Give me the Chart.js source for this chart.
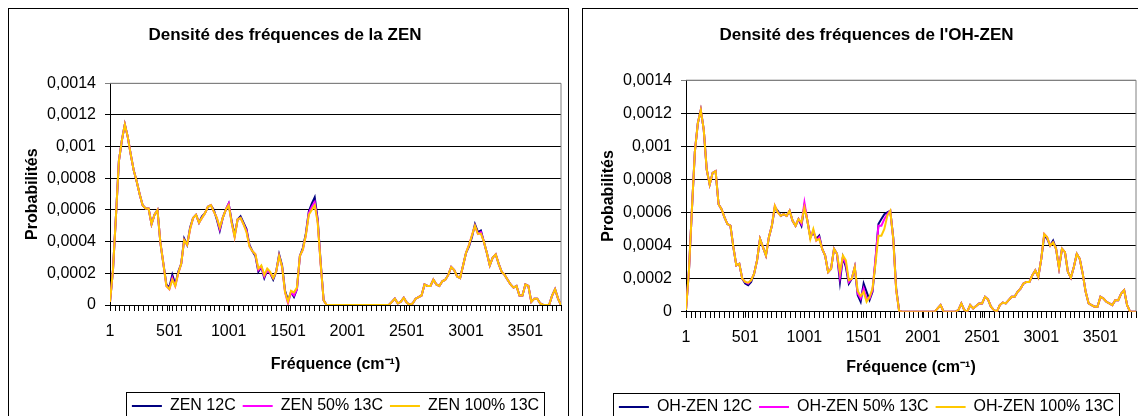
<!DOCTYPE html>
<html>
<head>
<meta charset="utf-8">
<script src="https://cdn.jsdelivr.net/npm/chart.js@4.4.1/dist/chart.umd.min.js"></script>
<style>
  body { margin: 0; background: #fff; overflow: hidden; width: 1138px; height: 416px; position: relative; }
  .frame { position: absolute; top: 8px; border: 1px solid #000; background: #fff; }
  #f1 { left: 8px; width: 559px; height: 430px; }
  #f2 { left: 582px; width: 562px; height: 430px; }
  canvas { display: block; }
</style>
</head>
<body>
<div class="frame" id="f1"><canvas id="zen" width="559" height="415"></canvas></div>
<div class="frame" id="f2"><canvas id="ohzen" width="562" height="416"></canvas></div>
<script>
// spectra sampled every 25 cm-1, starting at 1
const FREQ_STEP = 25;
const X_LABELS = [1, 501, 1001, 1501, 2001, 2501, 3001, 3501];

const zen12 = [
  0.00002,0.00022,0.00056,0.00091,0.00104,0.00114,0.00106,0.00095,0.00085,0.00078,
  0.00070,0.00063,0.00061,0.00061,0.00051,0.00057,0.00060,0.00039,0.00026,0.00013,
  0.00011,0.00019,0.00013,0.00021,0.00026,0.00042,0.00038,0.00049,0.00055,0.00057,
  0.00052,0.00056,0.00058,0.00062,0.00063,0.00060,0.00054,0.00047,0.00055,0.00060,
  0.00064,0.00053,0.00044,0.00054,0.00056,0.00052,0.00048,0.00038,0.00034,0.00031,
  0.00021,0.00024,0.00017,0.00022,0.00020,0.00016,0.00021,0.00032,0.00025,0.00009,
  0.00003,0.00008,0.00005,0.00010,0.00031,0.00036,0.00045,0.00059,0.00064,0.00068,
  0.00054,0.00027,0.00003,0,0,0,0,0,0,0,
  0,0,0,0,0,0,0,0,0,0,
  0,0,0,0,0,0.00002,0.00004,0.00001,0.00002,0.000045,
  0.000015,0,0.00001,0.00004,0.00005,0.00006,0.00013,0.00012,0.00012,0.00016,
  0.00013,0.00012,0.00015,0.00016,0.00019,0.00024,0.00022,0.00018,0.00017,0.00025,
  0.00033,0.00037,0.00043,0.00051,0.00046,0.00047,0.00040,0.00033,0.00025,0.00030,
  0.00032,0.00026,0.00021,0.00019,0.00016,0.00013,0.00011,0.00012,0.00006,0.00006,
  0.00013,0.00012,0.00002,0.00004,0.00004,0.00001,0,0,0,0.00006,
  0.00010,0.00004,0
];
const zen50 = [
  0.00002,0.00022,0.00056,0.00091,0.00104,0.00114,0.00106,0.00095,0.00085,0.00078,
  0.00070,0.00063,0.00061,0.00061,0.00051,0.00057,0.00060,0.00039,0.00026,0.00012,
  0.00010,0.00017,0.00012,0.00020,0.00026,0.00041,0.00038,0.00048,0.00055,0.00057,
  0.00052,0.00055,0.00058,0.00062,0.00063,0.00059,0.00055,0.00048,0.00055,0.00060,
  0.00064,0.00052,0.00043,0.00054,0.00055,0.00051,0.00047,0.00037,0.00034,0.00032,
  0.00022,0.00024,0.00018,0.00022,0.00020,0.00017,0.00021,0.00031,0.00024,0.00008,
  0.00001,0.00008,0.00006,0.00010,0.00031,0.00035,0.00044,0.00058,0.00062,0.00065,
  0.00053,0.00026,0.00003,0,0,0,0,0,0,0,
  0,0,0,0,0,0,0,0,0,0,
  0,0,0,0,0,0.00002,0.00004,0.00001,0.00002,0.000045,
  0.000015,0,0.00001,0.00004,0.00005,0.00006,0.00013,0.00012,0.00012,0.00016,
  0.00013,0.00012,0.00015,0.00016,0.00019,0.00024,0.00022,0.00018,0.00017,0.00025,
  0.00033,0.00038,0.00044,0.00050,0.00045,0.00046,0.00040,0.00033,0.00025,0.00030,
  0.00032,0.00026,0.00021,0.00019,0.00016,0.00013,0.00011,0.00012,0.00006,0.00006,
  0.00013,0.00012,0.00002,0.00004,0.00004,0.00001,0,0,0,0.00006,
  0.00010,0.00004,0
];
const zen100 = [
  0.00002,0.00022,0.00056,0.00091,0.00104,0.00114,0.00106,0.00095,0.00085,0.00078,
  0.00070,0.00063,0.00061,0.00061,0.00051,0.00057,0.00060,0.00039,0.00026,0.00012,
  0.00010,0.00016,0.00012,0.00020,0.00026,0.00041,0.00038,0.00048,0.00055,0.00057,
  0.00052,0.00055,0.00058,0.00062,0.00063,0.00059,0.00055,0.00049,0.00055,0.00060,
  0.00063,0.00052,0.00043,0.00054,0.00055,0.00051,0.00046,0.00037,0.00034,0.00032,
  0.00023,0.00025,0.00019,0.00023,0.00021,0.00017,0.00021,0.00031,0.00024,0.00008,
  0.00002,0.00009,0.00008,0.00011,0.00031,0.00035,0.00044,0.00057,0.00060,0.00063,
  0.00052,0.00026,0.00003,0,0,0,0,0,0,0,
  0,0,0,0,0,0,0,0,0,0,
  0,0,0,0,0,0.00002,0.00004,0.00001,0.00002,0.000045,
  0.000015,0,0.00001,0.00004,0.00005,0.00006,0.00013,0.00012,0.00012,0.00016,
  0.00013,0.00012,0.00015,0.00016,0.00019,0.00024,0.00022,0.00018,0.00017,0.00025,
  0.00033,0.00038,0.00044,0.00050,0.00045,0.00045,0.00040,0.00033,0.00025,0.00030,
  0.00032,0.00026,0.00021,0.00019,0.00016,0.00013,0.00011,0.00012,0.00006,0.00006,
  0.00013,0.00012,0.00002,0.00004,0.00004,0.00001,0,0,0,0.00006,
  0.00010,0.00004,0
];

const ohzen12 = [
  0.00001,0.00025,0.00062,0.00097,0.00114,0.00122,0.00110,0.00086,0.00077,0.00084,
  0.00085,0.00065,0.00062,0.00057,0.00053,0.00052,0.00039,0.00028,0.00029,0.00020,
  0.00017,0.00016,0.00018,0.00023,0.00031,0.00044,0.00039,0.00034,0.00045,0.00052,
  0.00063,0.00061,0.00058,0.00059,0.00058,0.00061,0.00055,0.00052,0.00056,0.00052,
  0.00064,0.00055,0.00045,0.00048,0.00044,0.00046,0.00038,0.00034,0.00024,0.00026,
  0.00038,0.00035,0.00018,0.00033,0.00027,0.00017,0.00020,0.00027,0.00010,0.00006,
  0.00017,0.00012,0.00007,0.00012,0.00031,0.00053,0.00056,0.00059,0.00060,0.00061,
  0.00045,0.00014,0.000005,0,0,0,0,0,0,0,
  0,0,0,0,0,0.00002,0.00004,0,0,0,
  0,0,0.00001,0.00005,0.00001,0,0.00004,0.00002,0.000035,0.00005,
  0.00005,0.00009,0.000075,0.00003,0.00001,0,0.00004,0.000055,0.00005,0.00007,
  0.00009,0.00009,0.00012,0.00014,0.00017,0.00018,0.00018,0.00022,0.00025,0.00021,
  0.00032,0.00046,0.00044,0.00040,0.00043,0.00038,0.000265,0.00038,0.00036,0.00024,
  0.000205,0.00027,0.00035,0.00032,0.00023,0.00012,0.00005,0.00004,0.00003,0.00003,
  0.00009,0.00008,0.00006,0.00005,0.00004,0.00007,0.00007,0.00011,0.00013,0.00004,
  0,0,0
];
const ohzen50 = [
  0.00001,0.00025,0.00062,0.00097,0.00114,0.00122,0.00110,0.00086,0.00077,0.00084,
  0.00085,0.00065,0.00062,0.00057,0.00053,0.00052,0.00039,0.00028,0.00029,0.00020,
  0.00018,0.00017,0.00019,0.00023,0.00031,0.00044,0.00039,0.00034,0.00045,0.00052,
  0.00064,0.00060,0.00058,0.00059,0.00058,0.00061,0.00055,0.00052,0.00056,0.00053,
  0.00066,0.00055,0.00045,0.00049,0.00043,0.00045,0.00038,0.00034,0.00024,0.00026,
  0.00038,0.00035,0.00021,0.00033,0.00029,0.00018,0.00020,0.00027,0.00011,0.00008,
  0.00014,0.00008,0.00008,0.00013,0.00032,0.00052,0.00052,0.00056,0.00059,0.00061,
  0.00044,0.00013,0.000005,0,0,0,0,0,0,0,
  0,0,0,0,0,0.00002,0.00004,0,0,0,
  0,0,0.00001,0.00005,0.00001,0,0.00004,0.00002,0.000035,0.00005,
  0.00005,0.00009,0.000075,0.00003,0.00001,0,0.00004,0.000055,0.00005,0.00007,
  0.00009,0.00009,0.00012,0.00014,0.00017,0.00018,0.00018,0.00022,0.00025,0.00021,
  0.00032,0.00047,0.00045,0.00040,0.00042,0.00038,0.000265,0.00038,0.00036,0.00024,
  0.000205,0.00027,0.00035,0.00032,0.00023,0.00012,0.00005,0.00004,0.00003,0.00003,
  0.00009,0.00008,0.00006,0.00005,0.00004,0.00007,0.00007,0.00011,0.00013,0.00004,
  0,0,0
];
const ohzen100 = [
  0.00001,0.00025,0.00062,0.00097,0.00114,0.00122,0.00110,0.00086,0.00077,0.00084,
  0.00085,0.00065,0.00062,0.00057,0.00053,0.00052,0.00039,0.00028,0.00029,0.00020,
  0.00018,0.000175,0.00019,0.00023,0.00031,0.00044,0.00039,0.00034,0.00045,0.00052,
  0.00064,0.00060,0.00058,0.00059,0.00058,0.00061,0.00055,0.00052,0.00056,0.00054,
  0.00063,0.00055,0.00044,0.00050,0.00043,0.00044,0.00038,0.00034,0.00024,0.00026,
  0.00038,0.00035,0.00024,0.00034,0.00031,0.00019,0.00020,0.00027,0.000125,0.000095,
  0.00012,0.00006,0.00009,0.00014,0.00029,0.00046,0.00046,0.00050,0.00058,0.00061,
  0.00044,0.00013,0.000005,0,0,0,0,0,0,0,
  0,0,0,0,0,0.00002,0.00004,0,0,0,
  0,0,0.00001,0.00005,0.00001,0,0.00004,0.00002,0.000035,0.00005,
  0.00005,0.00009,0.000075,0.00003,0.00001,0,0.00004,0.000055,0.00005,0.00007,
  0.00009,0.00009,0.00012,0.00014,0.00017,0.00018,0.00018,0.00022,0.00025,0.00021,
  0.00032,0.00047,0.00045,0.00040,0.00042,0.00038,0.000265,0.00038,0.00036,0.00024,
  0.000205,0.00027,0.00035,0.00032,0.00023,0.00012,0.00005,0.00004,0.00003,0.00003,
  0.00009,0.00008,0.00006,0.00005,0.00004,0.00007,0.00007,0.00011,0.00013,0.00004,
  0,0,0
];

const freq = zen100.map((_, i) => 1 + i * FREQ_STEP);
const X_MAX = freq[freq.length - 1];

// minor tick marks every 40 categories, like the Excel axis
const xTicks = [];
for (let v = 1; v <= X_MAX; v += 40) xTicks.push(v);

Chart.defaults.font.family = "'Liberation Sans', Arial, sans-serif";
Chart.defaults.color = "#000";

const COLORS = ["#000080", "#FF00FF", "#FFC800"];

const plotFrame = {
  id: "plotFrame",
  beforeDatasetsDraw(chart) {
    const { ctx, chartArea: a } = chart;
    ctx.save();
    ctx.strokeStyle = "#808080";
    ctx.lineWidth = 1;
    ctx.beginPath();
    ctx.moveTo(a.left, a.top);
    ctx.lineTo(a.right, a.top);
    ctx.lineTo(a.right, a.bottom);
    ctx.stroke();
    ctx.restore();
  },
  afterDraw(chart) {
    // small tick marks under the category axis
    const { ctx, chartArea: a } = chart;
    const xs = chart.scales.x;
    const y0 = Math.round(a.bottom);
    ctx.save();
    ctx.fillStyle = "#000";
    xTicks.forEach(v => {
      const px = Math.round(xs.getPixelForValue(v));
      ctx.fillRect(px, y0, 1, 6);
    });
    ctx.restore();
  }
};

const legendFrame = {
  id: "legendFrame",
  afterDraw(chart) {
    const boxes = chart.legend.legendHitBoxes;
    if (!boxes || !boxes.length) return;
    const left = Math.min(...boxes.map(b => b.left)) - 6;
    const right = Math.max(...boxes.map(b => b.left + b.width)) + 5;
    const top = boxes[0].top - 6;
    const ctx = chart.ctx;
    ctx.save();
    ctx.strokeStyle = "#000";
    ctx.lineWidth = 1;
    ctx.strokeRect(Math.round(left) + 0.5, Math.round(top) + 0.5, Math.round(right - left), chart.height);
    ctx.restore();
  }
};

function yLabel(v) {
  const r = Math.round(v * 1e4) / 1e4;
  return r === 0 ? "0" : String(r).replace(".", ",");
}

function makeChart(id, title, names, series, lay) {
  const datasets = series.map((vals, i) => ({
    label: names[i],
    data: vals.map((y, k) => ({ x: freq[k], y: y })),
    borderColor: COLORS[i],
    backgroundColor: COLORS[i],
    borderWidth: 2,
    pointRadius: 0,
    tension: 0,
    fill: false,
    order: 2 - i
  }));
  return new Chart(id, {
    type: "line",
    data: { datasets: datasets },
    options: {
      responsive: false,
      animation: false,
      layout: { padding: { left: lay.padLeft, right: lay.padRight, top: 0, bottom: 0 } },
      plugins: {
        title: {
          display: true,
          text: title,
          font: { size: 17, weight: "bold" },
          padding: { top: 16, bottom: lay.titleBottom }
        },
        legend: {
          position: "bottom",
          fullSize: lay.legendFull,
          labels: {
            usePointStyle: true,
            pointStyle: "line",
            pointStyleWidth: 30,
            padding: 7,
            font: { size: 16 },
            sort: (a, b) => a.datasetIndex - b.datasetIndex
          }
        },
        tooltip: { enabled: false }
      },
      scales: {
        x: {
          type: "linear",
          min: 1,
          max: X_MAX,
          afterFit: s => { s.height = lay.xHeight; },
          afterBuildTicks: s => { s.ticks = X_LABELS.map(v => ({ value: v })); },
          ticks: {
            autoSkip: false,
            maxRotation: 0,
            padding: lay.xTickPad,
            font: { size: 16 },
            callback: v => String(v)
          },
          grid: { drawOnChartArea: false, drawTicks: true, tickLength: 6, color: "#000" },
          border: { color: "#000" },
          title: {
            display: true,
            text: "Fréquence (cm⁻¹)",
            font: { size: 16, weight: "bold" },
            padding: { top: 0, bottom: lay.xTitleBottom }
          }
        },
        y: {
          min: 0,
          max: 0.0014,
          afterFit: s => { s.width = lay.yWidth; },
          ticks: { stepSize: 0.0002, padding: 9, font: { size: 16 }, callback: yLabel },
          grid: {
            tickLength: 5,
            color: c => (c.tick && c.tick.value > 0.00139 ? "#808080" : "#000")
          },
          border: { color: "#000" },
          title: {
            display: true,
            text: "Probabilités",
            font: { size: 16, weight: "bold" },
            padding: { top: lay.yTitlePad, bottom: 0 }
          }
        }
      }
    },
    plugins: [plotFrame, legendFrame]
  });
}

makeChart("zen", "Densité des fréquences de la ZEN",
  ["ZEN 12C", "ZEN 50% 13C", "ZEN 100% 13C"],
  [zen12, zen50, zen100],
  { padLeft: 0, padRight: 7, titleBottom: 37.9, legendFull: false, xHeight: 86, xTickPad: 11.1,
    xTitleBottom: 16.4, yWidth: 101, yTitlePad: 14.4 });

makeChart("ohzen", "Densité des fréquences de l'OH-ZEN",
  ["OH-ZEN 12C", "OH-ZEN 50% 13C", "OH-ZEN 100% 13C"],
  [ohzen12, ohzen50, ohzen100],
  { padLeft: 14, padRight: 9, titleBottom: 34.8, legendFull: true, xHeight: 80.3, xTickPad: 10.7,
    xTitleBottom: 14.4, yWidth: 89, yTitlePad: 1.9 });
</script>
</body>
</html>
